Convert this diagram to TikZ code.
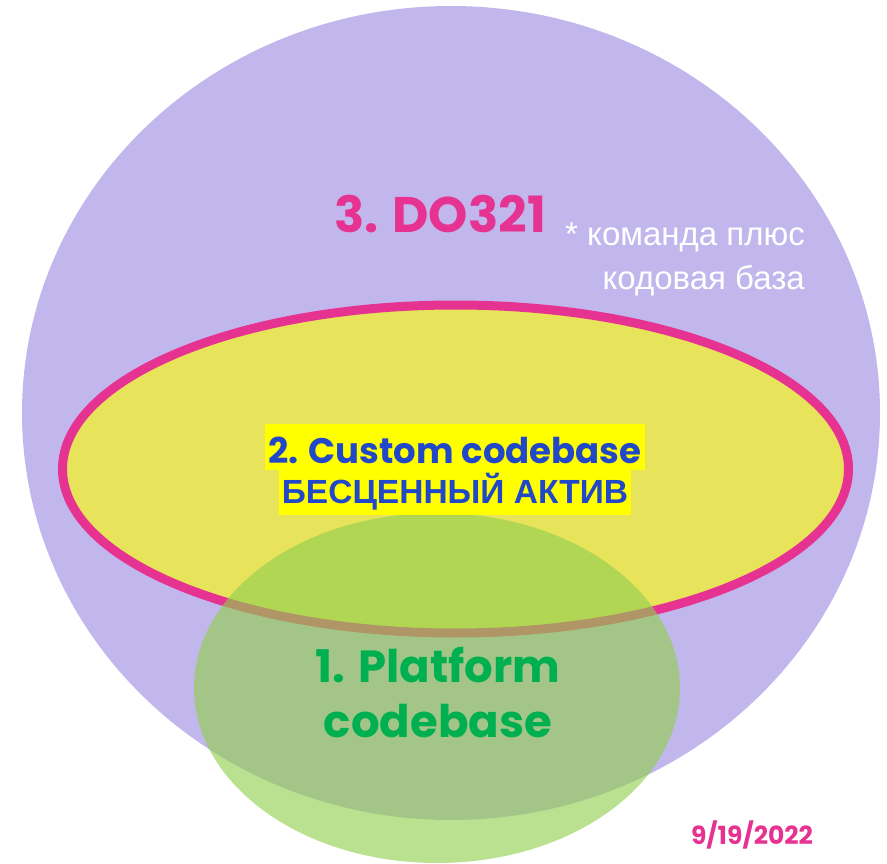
\documentclass[tikz,border=0pt]{standalone}
\usepackage{fontspec}
\setmainfont{Poppins}
\newfontfamily\cyr{Liberation Sans}
\definecolor{lav}{RGB}{194,183,237}
\definecolor{mag}{RGB}{230,50,145}
\definecolor{ylw}{RGB}{255,255,0}
\definecolor{lgreen}{RGB}{146,208,80}
\definecolor{dgreen}{RGB}{0,176,80}
\definecolor{tblue}{RGB}{32,72,200}
\begin{document}
\begin{tikzpicture}[x=1pt,y=-1pt,
  lbl/.style={inner sep=0pt,font=\bfseries,anchor=base},
  notes/.style={inner sep=0pt,text=white,anchor=base east,font=\cyr\fontsize{33}{38}\selectfont},
  hl/.style={fill=ylw,inner xsep=3pt,inner ysep=0pt,anchor=base,text=tblue}]
\useasboundingbox (0,0) rectangle (887,864);
\fill[lav] (451,413) ellipse [x radius=429, y radius=407];
\draw[mag,line width=9pt,fill=ylw,fill opacity=0.62] (455.5,469) ellipse [x radius=393, y radius=164];
\fill[lgreen,opacity=0.64] (437,688) ellipse [x radius=243, y radius=175];
\node[lbl,text=mag,font=\bfseries\fontsize{50}{56}\selectfont] (do) at (440,233) {3. DO321};
\node[notes] (note1) at (805,246) {* команда плюс};
\node[notes] (note2) at (805,289) {кодовая база};
\node[hl,text height=39pt,text depth=7pt,font=\bfseries\fontsize{35.5}{40}\selectfont] (cc) at (455,463) {2. Custom codebase};
\node[hl,text height=33pt,text depth=12pt,font=\cyr\bfseries\fontsize{33.5}{40}\selectfont] (ba) at (455,503) {БЕСЦЕННЫЙ АКТИВ};
\node[lbl,text=dgreen,font=\bfseries\fontsize{45}{55}\selectfont] (pc1) at (438,682) {1. Platform};
\node[lbl,text=dgreen,font=\bfseries\fontsize{45}{55}\selectfont] (pc2) at (438,737) {codebase};
\node[lbl,text=mag,font=\bfseries\fontsize{25}{30}\selectfont] (dt) at (752,844) {9/19/2022};
\end{tikzpicture}
\end{document}
